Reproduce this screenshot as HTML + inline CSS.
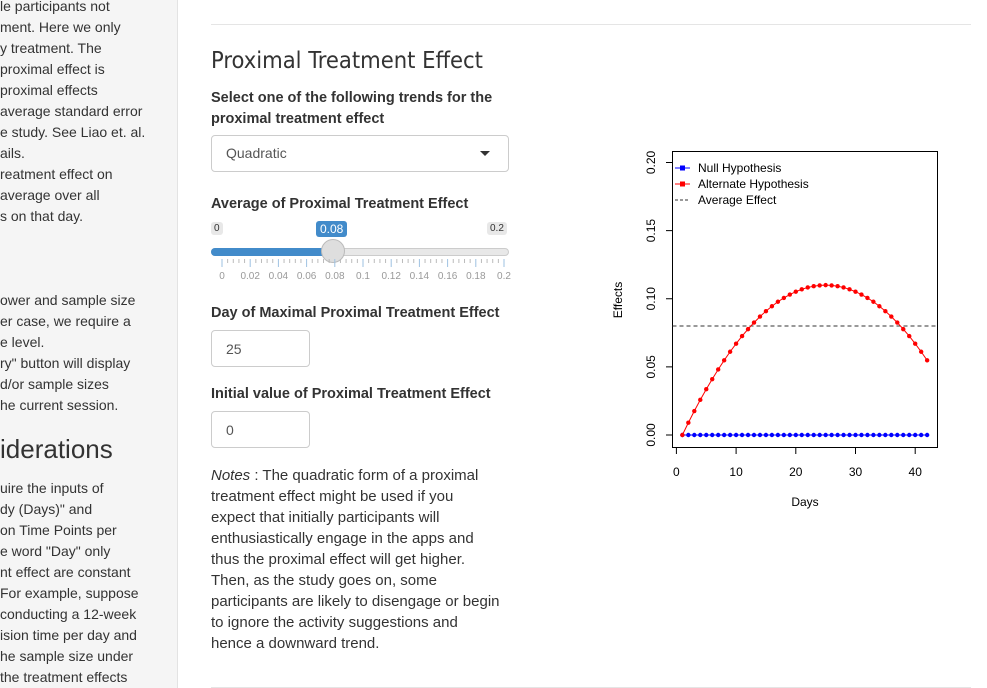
<!DOCTYPE html>
<html><head><meta charset="utf-8"><style>
body{margin:0;width:987px;height:688px;overflow:hidden;background:#fff;font-family:"Liberation Sans",sans-serif;color:#333;position:relative}
.side{position:absolute;left:0;top:0;width:177px;height:688px;background:#f5f5f5;border-right:1px solid #e3e3e3;overflow:hidden}
.side p{position:absolute;left:0;margin:0;font-size:14px;line-height:21px;white-space:nowrap}
.side h3{position:absolute;left:0;top:434px;margin:0;font-size:26px;font-weight:normal;white-space:nowrap}
.lbl{position:absolute;left:211px;font-size:14.5px;font-weight:bold;color:#333;line-height:21px}
.inp{position:absolute;left:211px;border:1px solid #ccc;border-radius:4px;background:#fff;font-size:14px;color:#555;box-sizing:border-box;padding:0 14px;line-height:36px}
</style></head><body>
<div class="side">
<p style="top:-4px">le participants not</p>
<p style="top:17px">ment. Here we only</p>
<p style="top:38px">y treatment. The</p>
<p style="top:59px">proximal effect is</p>
<p style="top:80px">proximal effects</p>
<p style="top:101px">average standard error</p>
<p style="top:122px">e study. See Liao et. al.</p>
<p style="top:143px">ails.</p>
<p style="top:164px">reatment effect on</p>
<p style="top:185px">average over all</p>
<p style="top:206px">s on that day.</p>
<p style="top:290px">ower and sample size</p>
<p style="top:311px">er case, we require a</p>
<p style="top:332px">e level.</p>
<p style="top:353px">ry" button will display</p>
<p style="top:374px">d/or sample sizes</p>
<p style="top:395px">he current session.</p>
<h3>iderations</h3>
<p style="top:478px">uire the inputs of</p>
<p style="top:499px">dy (Days)" and</p>
<p style="top:520px">on Time Points per</p>
<p style="top:541px">e word "Day" only</p>
<p style="top:562px">nt effect are constant</p>
<p style="top:583px">For example, suppose</p>
<p style="top:604px">conducting a 12-week</p>
<p style="top:625px">ision time per day and</p>
<p style="top:646px">he sample size under</p>
<p style="top:667px">the treatment effects</p>
</div>
<div style="position:absolute;left:211px;top:24px;width:760px;border-top:1px solid #e5e5e5"></div>
<div style="position:absolute;left:211px;top:687px;width:760px;border-top:1px solid #e5e5e5"></div>
<div style="position:absolute;left:211px;top:46px;font-size:23.5px;font-family:'DejaVu Sans Condensed','Liberation Sans',sans-serif;color:#333">Proximal Treatment Effect</div>
<div class="lbl" style="top:88px">Select one of the following trends for the<br>proximal treatment effect</div>
<div class="inp" style="top:135px;width:298px;height:37px;line-height:35px">Quadratic<span style="position:absolute;right:18px;top:15px;border-left:5px solid transparent;border-right:5px solid transparent;border-top:5px solid #333"></span></div>
<div class="lbl" style="top:194px">Average of Proximal Treatment Effect</div>
<div style="position:absolute;left:211px;top:222px;background:#e8e8e8;font-size:10px;padding:1px 3px;border-radius:3px;color:#333">0</div>
<div style="position:absolute;left:487px;top:222px;background:#e8e8e8;font-size:10px;padding:1px 3px;border-radius:3px;color:#333">0.2</div>
<div style="position:absolute;left:316px;top:221px;background:#428bca;font-size:12px;padding:1px 4px;border-radius:3px;color:#fff">0.08</div>
<div style="position:absolute;left:211px;top:248px;width:298px;height:8px;background:#e8e8e8;border:1px solid #ccc;border-radius:5px;box-sizing:border-box"></div>
<div style="position:absolute;left:211px;top:248px;width:122px;height:8px;background:#428bca;border-radius:5px 0 0 5px"></div>
<div style="position:absolute;left:321px;top:239px;width:24px;height:24px;border-radius:50%;background:#dedede;border:1px solid #bbb;box-sizing:border-box"></div>
<svg style="position:absolute;left:0;top:0" width="987" height="688" id="sl"></svg>
<div class="lbl" style="top:303px">Day of Maximal Proximal Treatment Effect</div>
<div class="inp" style="top:330px;width:99px;height:37px">25</div>
<div class="lbl" style="top:384px">Initial value of Proximal Treatment Effect</div>
<div class="inp" style="top:411px;width:99px;height:37px">0</div>
<div style="position:absolute;left:211px;top:465px;font-size:15px;line-height:21px;color:#333;white-space:nowrap"><i>Notes</i> : The quadratic form of a proximal<br>treatment effect might be used if you<br>expect that initially participants will<br>enthusiastically engage in the apps and<br>thus the proximal effect will get higher.<br>Then, as the study goes on, some<br>participants are likely to disengage or begin<br>to ignore the activity suggestions and<br>hence a downward trend.</div>
<svg id="chart" style="position:absolute;left:0;top:0" width="987" height="688"></svg>
<script>
const days=[1,2,3,4,5,6,7,8,9,10,11,12,13,14,15,16,17,18,19,20,21,22,23,24,25,26,27,28,29,30,31,32,33,34,35,36,37,38,39,40,41,42];
const altValues=[0,0.009,0.0176,0.0258,0.0336,0.041,0.0481,0.0548,0.0611,0.067,0.0726,0.0777,0.0825,0.0869,0.0909,0.0945,0.0978,0.1006,0.1031,0.1052,0.1069,0.1083,0.1092,0.1098,0.11,0.1098,0.1092,0.1083,0.1069,0.1052,0.1031,0.1006,0.0978,0.0945,0.0909,0.0869,0.0825,0.0777,0.0726,0.067,0.0611,0.0548];
const nullValues=[0,0,0,0,0,0,0,0,0,0,0,0,0,0,0,0,0,0,0,0,0,0,0,0,0,0,0,0,0,0,0,0,0,0,0,0,0,0,0,0,0,0];
const avgEffect=0.08;
const xTicks=[0,10,20,30,40];
const yTicks=["0.00","0.05","0.10","0.15","0.20"];
const sliderTicks=["0","0.02","0.04","0.06","0.08","0.1","0.12","0.14","0.16","0.18","0.2"];
const NS="http://www.w3.org/2000/svg";
function mk(p,t,a){const e=document.createElementNS(NS,t);for(const k in a)e.setAttribute(k,a[k]);p.appendChild(e);return e;}
const sl=document.getElementById('sl');
sliderTicks.forEach((t,i)=>{const x=222+i*28.2;
 const l=mk(sl,'line',{x1:x,x2:x,y1:259,y2:267,stroke:'#9ec2e2'});
 
 
 if(i<10)for(let j=1;j<5;j++){const m=mk(sl,'line',{x1:x+j*5.64,x2:x+j*5.64,y1:259,y2:263,stroke:'#bbb'});
 
 }
 const tx=mk(sl,'text',{x:x,y:279,'font-size':10,'text-anchor':'middle',fill:'#999','font-family':'Liberation Sans'});tx.textContent=t;
 
 
});
const c=document.getElementById('chart');
const X=d=>676.4+d*5.97, Y=v=>435-v*1362.5;
const box=mk(c,'rect',{x:672.5,y:151.5,width:265,height:296,fill:'none',stroke:'#000'});


xTicks.forEach(t=>{mk(c,'line',{x1:X(t),x2:X(t),y1:447.5,y2:454,stroke:'#000'});
 const tx=mk(c,'text',{x:X(t),y:476,'font-size':12,'text-anchor':'middle','font-family':'Liberation Sans'});tx.textContent=t;
 
 });
mk(c,'line',{x1:X(0),x2:X(40),y1:447.5,y2:447.5,stroke:'#000'});
yTicks.forEach(t=>{const y=Y(parseFloat(t));mk(c,'line',{x1:666,x2:672.5,y1:y,y2:y,stroke:'#000'});
 const tx=mk(c,'text',{x:0,y:0,'font-size':12,'text-anchor':'middle','font-family':'Liberation Sans',transform:`translate(655,${y}) rotate(-90)`});tx.textContent=t;
 
 });
mk(c,'line',{x1:672.5,x2:672.5,y1:Y(0),y2:Y(0.2),stroke:'#000'});
const xt=mk(c,'text',{x:805,y:506,'font-size':12,'text-anchor':'middle','font-family':'Liberation Sans'});xt.textContent='Days';


const yt=mk(c,'text',{x:0,y:0,'font-size':12,'text-anchor':'middle','font-family':'Liberation Sans',transform:'translate(622,300) rotate(-90)'});yt.textContent='Effects';


const av=mk(c,'line',{x1:672.5,x2:937.5,y1:Y(avgEffect),y2:Y(avgEffect),stroke:'#333','stroke-dasharray':'4,3'});


function series(vals,col,name){
 const p=mk(c,'polyline',{points:days.map((d,i)=>X(d)+','+Y(vals[i])).join(' '),fill:'none',stroke:col});
 
 
 days.forEach((d,i)=>{const pt=mk(c,'circle',{cx:X(d),cy:Y(vals[i]),r:2.2,fill:col});
 
 });
}
series(nullValues,'#0000ff','null');
series(altValues,'#ff0000','alternate');
const leg=[['Null Hypothesis','#0000ff',false],['Alternate Hypothesis','#ff0000',false],['Average Effect','#333',true]];
leg.forEach((l,i)=>{const y=168+i*16;
 mk(c,'line',{x1:675,x2:690,y1:y,y2:y,stroke:l[1],'stroke-dasharray':l[2]?'3,2':'none'});
 if(!l[2])mk(c,'rect',{x:680,y:y-2.5,width:5,height:5,fill:l[1]});
 const tx=mk(c,'text',{x:698,y:y+4,'font-size':12,'font-family':'Liberation Sans'});tx.textContent=l[0];
 
 });
</script>
</body></html>
